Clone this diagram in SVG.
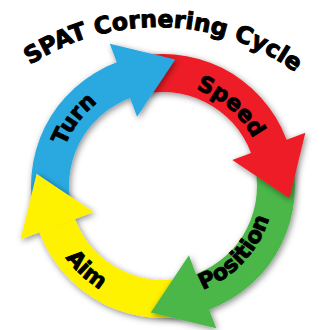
<svg xmlns="http://www.w3.org/2000/svg" width="327" height="330" viewBox="0 0 327 330">
<style>
.lbl{font-family:"DejaVu Sans","Liberation Sans",sans-serif;font-weight:bold;fill:#000;font-size:22px;stroke:#000;stroke-width:0.9;stroke-linejoin:round}
.title{font-family:"DejaVu Sans","Liberation Sans",sans-serif;font-weight:bold;fill:#000;font-size:23.5px;stroke:#000;stroke-width:1;stroke-linejoin:round}
</style>
<defs>
<path id="arrow" d="M9.208 -131.68 A132 132 0 0 1 132 0 L152 0 L114.15 55.67 L74 0 L94 0 A94 94 0 0 0 6.557 -93.771 Z"/>
<path id="head" d="M152 0 L114.15 55.67 L74 0 Z"/>
<filter id="sh" x="-20%" y="-20%" width="140%" height="140%"><feDropShadow dx="1.5" dy="2" stdDeviation="3" flood-color="#000" flood-opacity="0.45"/></filter>
<filter id="blur" x="-30%" y="-30%" width="160%" height="160%"><feGaussianBlur stdDeviation="3"/></filter>
<clipPath id="noYellowHead"><path clip-rule="evenodd" transform="translate(163 186) rotate(159.5)" d="M-500 -500H500V500H-500Z M152 0 L114.15 55.67 L74 0 Z"/></clipPath>
<clipPath id="blueShape"><use href="#arrow" transform="translate(163 186) rotate(249.5)"/></clipPath>
<path id="tTitle" d="M-16 105 A232 232 0 0 1 339.3 114.9"/>
<path id="tTurn" d="M57.15 191.55 A106 106 0 0 1 139.15 82.72"/>
<path id="tSpeed" d="M163.89 84 A102 102 0 0 1 263.6 169.16"/>
<path id="tPos" d="M166.87 296.93 A111 111 0 0 0 273.93 182.13"/>
<path id="tAim" d="M43.04 201.79 A121 121 0 0 0 157.72 306.89"/>
</defs>
<rect width="327" height="330" fill="#fff"/>
<g id="title">
<text class="title"><textPath href="#tTitle" startOffset="50%" text-anchor="middle">SPAT Cornering Cycle</textPath></text>
</g>
<g id="aim">
<g filter="url(#sh)"><use href="#arrow" transform="translate(163 186) rotate(159.5)" fill="#FFF200"/></g>
<text class="lbl"><textPath href="#tAim" startOffset="50%" text-anchor="middle">Aim</textPath></text>
</g>
<g id="position">
<g filter="url(#sh)"><use href="#arrow" transform="translate(163 186) rotate(69.5)" fill="#4BB74A"/></g>
<text class="lbl"><textPath href="#tPos" startOffset="50%" text-anchor="middle">Position</textPath></text>
</g>
<g id="speed">
<g filter="url(#sh)"><use href="#arrow" transform="translate(163 186) rotate(339.5)" fill="#EE1D25"/></g>
<text class="lbl"><textPath href="#tSpeed" startOffset="50%" text-anchor="middle">Speed</textPath></text>
</g>
<g id="turn" clip-path="url(#noYellowHead)">
<g filter="url(#sh)"><use href="#arrow" transform="translate(163 186) rotate(249.5)" fill="#29A9E1"/></g>
<g clip-path="url(#blueShape)"><use href="#head" filter="url(#blur)" transform="translate(164.5 188) rotate(159.5)" fill="#000" opacity="0.5"/></g>
<text class="lbl"><textPath href="#tTurn" startOffset="50%" text-anchor="middle">Turn</textPath></text>
</g>
</svg>
